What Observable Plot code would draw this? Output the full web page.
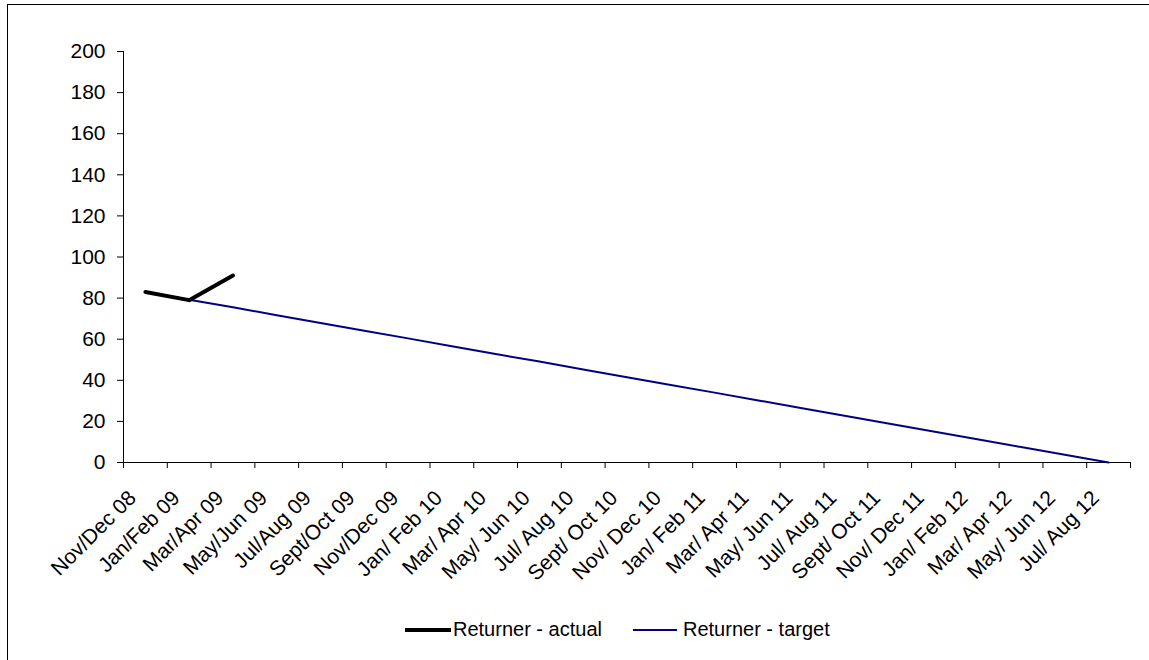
<!DOCTYPE html>
<html>
<head>
<meta charset="utf-8">
<script src="https://cdn.jsdelivr.net/npm/d3@7"></script>
<script src="https://cdn.jsdelivr.net/npm/@observablehq/plot@0.6"></script>
<style>
  html, body { margin: 0; padding: 0; background: #fff; }
  #wrap { position: relative; width: 1149px; height: 660px; overflow: hidden; font-family: "Liberation Sans", Arial, sans-serif; }
  #frame { position: absolute; left: 7px; top: 4px; width: 1300px; height: 800px; border-left: 1.5px solid #000; border-top: 1.5px solid #000; }
  #chart { position: absolute; left: 0; top: 0; }
  #chart svg text { font-size: 21px; fill: #000; }
  #legend { position: absolute; left: 0; top: 617px; width: 1149px; height: 24px; font-size: 20px; line-height: 24px; color: #000; }
  .item { position: absolute; top: 0; height: 24px; white-space: nowrap; }
  .sw { position: absolute; height: 0; }
</style>
</head>
<body>
<div id="wrap">
  <div id="frame"></div>
  <div id="chart"></div>
  <div id="legend">
    <div class="item" style="left:405px"><span class="sw" style="left:0;width:46px;border-top:4px solid #000;top:11px"></span><span style="position:absolute;left:48px">Returner - actual</span></div>
    <div class="item" style="left:633px"><span class="sw" style="left:0;width:44px;border-top:2px solid #000080;top:12px"></span><span style="position:absolute;left:50px">Returner - target</span></div>
  </div>
</div>
<script>
const categories = ["Nov/Dec 08","Jan/Feb 09","Mar/Apr 09","May/Jun 09","Jul/Aug 09","Sept/Oct 09","Nov/Dec 09","Jan/ Feb 10","Mar/ Apr 10","May/ Jun 10","Jul/ Aug 10","Sept/ Oct 10","Nov/ Dec 10","Jan/ Feb 11","Mar/ Apr 11","May/ Jun 11","Jul/ Aug 11","Sept/ Oct 11","Nov/ Dec 11","Jan/ Feb 12","Mar/ Apr 12","May/ Jun 12","Jul/ Aug 12"];
const actual = [83, 79, 91];
const target = [83, 79.2, 75.5, 71.7, 67.9, 64.1, 60.4, 56.6, 52.8, 49.1, 45.3, 41.5, 37.7, 34.0, 30.2, 26.4, 22.6, 18.9, 15.1, 11.3, 7.5, 3.8, 0];
const yTicks = [0, 20, 40, 60, 80, 100, 120, 140, 160, 180, 200];

const actualData = actual.map((v, i) => ({i, v}));
const targetData = target.map((v, i) => ({i, v}));
const idx = categories.map((c, i) => i);
const bounds = d3.range(categories.length + 1).map(k => k - 0.5);

const chart = Plot.plot({
  width: 1149,
  height: 600,
  marginLeft: 123,
  marginRight: 19,
  marginTop: 51,
  marginBottom: 138,
  style: {fontFamily: '"Liberation Sans", Arial, sans-serif', fontSize: "21px", color: "#000", background: "transparent", overflow: "visible"},
  x: {type: "linear", domain: [-0.5, categories.length - 0.5]},
  y: {domain: [0, 200]},
  marks: [
    Plot.axisY({ticks: yTicks, tickSize: 6, tickPadding: 12, tickFormat: d => d, label: null, fontSize: 21}),
    Plot.axisX({ticks: bounds, tickSize: 6, tickFormat: () => "", label: null}),
    Plot.text(idx, {x: d => d, text: i => categories[i], frameAnchor: "bottom", rotate: -45, textAnchor: "end", lineAnchor: "middle", dx: -13, dy: 32, fontSize: 21, fill: "#000"}),
    Plot.ruleX([-0.5], {stroke: "#000", strokeWidth: 1}),
    Plot.ruleY([0], {stroke: "#000", strokeWidth: 1}),
    Plot.line(targetData, {x: "i", y: "v", stroke: "#000080", strokeWidth: 2}),
    Plot.line(actualData, {x: "i", y: "v", stroke: "#000", strokeWidth: 4, strokeLinecap: "round", strokeLinejoin: "round"})
  ]
});
document.getElementById("chart").appendChild(chart);
</script>
</body>
</html>
